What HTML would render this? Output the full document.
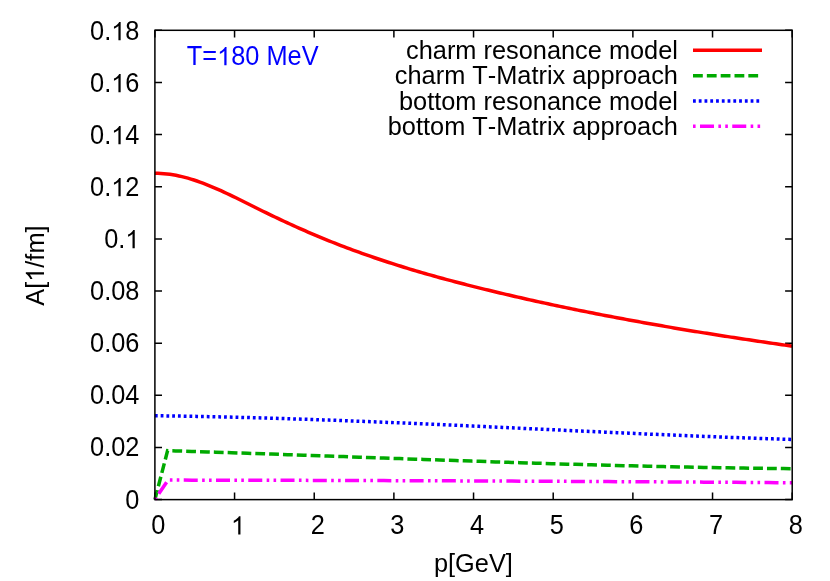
<!DOCTYPE html>
<html><head><meta charset="utf-8"><title>plot</title>
<style>
html,body{margin:0;padding:0;background:#fff;}
body{width:830px;height:581px;overflow:hidden;}
svg{display:block;will-change:transform;}
text{font-family:"Liberation Sans",sans-serif;font-size:25.35px;fill:#000;font-kerning:none;}
</style></head><body>
<svg width="830" height="581" viewBox="0 0 830 581">
<rect x="0" y="0" width="830" height="581" fill="#ffffff"/>

<g stroke="#000" stroke-width="1.50" fill="none" stroke-linecap="butt">
<path d="M154.90,499.62 h7.1 M792.20,499.62 h-7.1"/>
<path d="M154.90,447.47 h7.1 M792.20,447.47 h-7.1"/>
<path d="M154.90,395.33 h7.1 M792.20,395.33 h-7.1"/>
<path d="M154.90,343.18 h7.1 M792.20,343.18 h-7.1"/>
<path d="M154.90,291.03 h7.1 M792.20,291.03 h-7.1"/>
<path d="M154.90,238.89 h7.1 M792.20,238.89 h-7.1"/>
<path d="M154.90,186.74 h7.1 M792.20,186.74 h-7.1"/>
<path d="M154.90,134.59 h7.1 M792.20,134.59 h-7.1"/>
<path d="M154.90,82.45 h7.1 M792.20,82.45 h-7.1"/>
<path d="M154.90,30.30 h7.1 M792.20,30.30 h-7.1"/>
<path d="M154.90,499.62 v-7.1 M154.90,30.30 v7.1"/>
<path d="M234.56,499.62 v-7.1 M234.56,30.30 v7.1"/>
<path d="M314.23,499.62 v-7.1 M314.23,30.30 v7.1"/>
<path d="M393.89,499.62 v-7.1 M393.89,30.30 v7.1"/>
<path d="M473.55,499.62 v-7.1 M473.55,30.30 v7.1"/>
<path d="M553.21,499.62 v-7.1 M553.21,30.30 v7.1"/>
<path d="M632.88,499.62 v-7.1 M632.88,30.30 v7.1"/>
<path d="M712.54,499.62 v-7.1 M712.54,30.30 v7.1"/>
<path d="M792.20,499.62 v-7.1 M792.20,30.30 v7.1"/>
</g>
<g transform="translate(0,509.20) scale(1,1.07) translate(0,-509.20)"><text x="125.30" y="509.20">0</text></g>
<g transform="translate(0,456.20) scale(1,1.07) translate(0,-456.20)"><text x="90.06" y="456.20">0.02</text></g>
<g transform="translate(0,404.20) scale(1,1.07) translate(0,-404.20)"><text x="90.06" y="404.20">0.04</text></g>
<g transform="translate(0,352.20) scale(1,1.07) translate(0,-352.20)"><text x="90.06" y="352.20">0.06</text></g>
<g transform="translate(0,300.20) scale(1,1.07) translate(0,-300.20)"><text x="90.06" y="300.20">0.08</text></g>
<g transform="translate(0,248.20) scale(1,1.07) translate(0,-248.20)"><text x="104.16" y="248.20">0.<tspan style="fill:none">1</tspan></text><path d="M763 0H583V1147Q518 1085 412.5 1023T223 930V1104Q373 1175 485.5 1275T645 1469H763Z" transform="translate(125.30,248.20) scale(0.01238,-0.01157)" fill="#000"/></g>
<g transform="translate(0,196.20) scale(1,1.07) translate(0,-196.20)"><text x="90.06" y="196.20">0.<tspan style="fill:none">1</tspan>2</text><path d="M763 0H583V1147Q518 1085 412.5 1023T223 930V1104Q373 1175 485.5 1275T645 1469H763Z" transform="translate(111.20,196.20) scale(0.01238,-0.01157)" fill="#000"/></g>
<g transform="translate(0,144.20) scale(1,1.07) translate(0,-144.20)"><text x="90.06" y="144.20">0.<tspan style="fill:none">1</tspan>4</text><path d="M763 0H583V1147Q518 1085 412.5 1023T223 930V1104Q373 1175 485.5 1275T645 1469H763Z" transform="translate(111.20,144.20) scale(0.01238,-0.01157)" fill="#000"/></g>
<g transform="translate(0,92.20) scale(1,1.07) translate(0,-92.20)"><text x="90.06" y="92.20">0.<tspan style="fill:none">1</tspan>6</text><path d="M763 0H583V1147Q518 1085 412.5 1023T223 930V1104Q373 1175 485.5 1275T645 1469H763Z" transform="translate(111.20,92.20) scale(0.01238,-0.01157)" fill="#000"/></g>
<g transform="translate(0,40.20) scale(1,1.07) translate(0,-40.20)"><text x="90.06" y="40.20">0.<tspan style="fill:none">1</tspan>8</text><path d="M763 0H583V1147Q518 1085 412.5 1023T223 930V1104Q373 1175 485.5 1275T645 1469H763Z" transform="translate(111.20,40.20) scale(0.01238,-0.01157)" fill="#000"/></g>
<g transform="translate(0,534.40) scale(1,1.07) translate(0,-534.40)"><text x="151.35" y="534.40">0</text></g>
<g transform="translate(0,534.40) scale(1,1.07) translate(0,-534.40)"><text x="231.01" y="534.40"><tspan style="fill:none">1</tspan></text><path d="M763 0H583V1147Q518 1085 412.5 1023T223 930V1104Q373 1175 485.5 1275T645 1469H763Z" transform="translate(231.01,534.40) scale(0.01238,-0.01157)" fill="#000"/></g>
<g transform="translate(0,534.40) scale(1,1.07) translate(0,-534.40)"><text x="310.68" y="534.40">2</text></g>
<g transform="translate(0,534.40) scale(1,1.07) translate(0,-534.40)"><text x="390.34" y="534.40">3</text></g>
<g transform="translate(0,534.40) scale(1,1.07) translate(0,-534.40)"><text x="470.00" y="534.40">4</text></g>
<g transform="translate(0,534.40) scale(1,1.07) translate(0,-534.40)"><text x="549.66" y="534.40">5</text></g>
<g transform="translate(0,534.40) scale(1,1.07) translate(0,-534.40)"><text x="629.33" y="534.40">6</text></g>
<g transform="translate(0,534.40) scale(1,1.07) translate(0,-534.40)"><text x="708.99" y="534.40">7</text></g>
<g transform="translate(0,534.40) scale(1,1.07) translate(0,-534.40)"><text x="788.65" y="534.40">8</text></g>
<text x="433.95" y="572.00">p[GeV]</text>
<g transform="translate(44,265.6) rotate(-90)"><text x="-40.15" y="0.00">A[<tspan style="fill:none">1</tspan>/fm]</text><path d="M763 0H583V1147Q518 1085 412.5 1023T223 930V1104Q373 1175 485.5 1275T645 1469H763Z" transform="translate(-16.20,0.00) scale(0.01238,-0.01238)" fill="#000"/></g>
<g transform="translate(0,65.30) scale(1,1.07) translate(0,-65.30)"><text x="186.80" y="65.30" style="fill:#0000ff">T=<tspan style="fill:none">1</tspan>80 MeV</text><path d="M763 0H583V1147Q518 1085 412.5 1023T223 930V1104Q373 1175 485.5 1275T645 1469H763Z" transform="translate(217.09,65.30) scale(0.01238,-0.01157)" fill="#0000ff"/></g>
<text x="406.06" y="59.00">charm resonance model</text>
<text x="394.84" y="84.00">charm T-Matrix approach</text>
<text x="398.99" y="110.00">bottom resonance model</text>
<text x="387.77" y="135.00">bottom T-Matrix approach</text>
<g fill="none" stroke-width="3.5" stroke-linecap="butt" stroke-linejoin="round">
<path d="M693.0,50.37 H762.0" stroke="#ff0000"/>
<path d="M693.0,75.64 H762.0" stroke="#00aa00" stroke-dasharray="9.8 4.035"/>
<path d="M693.0,100.91 H762.0" stroke="#0000ff" stroke-dasharray="2.8 2.962"/>
<path d="M693.0,126.18 H762.0" stroke="#ff00ff" stroke-dasharray="14.0 4.39 2.6 4.29 2.6 4.385" stroke-dashoffset="25.28"/>
<path d="M154.90,173.29 L157.90,173.31 L160.90,173.43 L163.90,173.64 L166.90,173.93 L169.90,174.31 L172.90,174.77 L175.90,175.30 L178.90,175.92 L181.90,176.60 L184.90,177.36 L187.90,178.18 L190.90,179.06 L193.90,180.00 L196.90,181.00 L199.90,182.06 L202.90,183.16 L205.90,184.32 L208.90,185.52 L211.90,186.76 L214.90,188.03 L217.90,189.35 L220.90,190.69 L223.90,192.07 L226.90,193.47 L229.90,194.89 L232.90,196.34 L235.90,197.80 L238.90,199.28 L241.90,200.76 L244.90,202.26 L247.90,203.76 L250.90,205.26 L253.90,206.76 L256.90,208.25 L259.90,209.74 L262.90,211.22 L265.90,212.68 L268.90,214.14 L271.90,215.58 L274.90,217.02 L277.90,218.44 L280.90,219.85 L283.90,221.25 L286.90,222.64 L289.90,224.01 L292.90,225.38 L295.90,226.73 L298.90,228.07 L301.90,229.40 L304.90,230.72 L307.90,232.02 L310.90,233.31 L313.90,234.59 L316.90,235.86 L319.90,237.11 L322.90,238.35 L325.90,239.58 L328.90,240.80 L331.90,242.00 L334.90,243.19 L337.90,244.36 L340.90,245.52 L343.90,246.67 L346.90,247.81 L349.90,248.93 L352.90,250.04 L355.90,251.14 L358.90,252.23 L361.90,253.31 L364.90,254.37 L367.90,255.42 L370.90,256.47 L373.90,257.50 L376.90,258.52 L379.90,259.52 L382.90,260.52 L385.90,261.51 L388.90,262.49 L391.90,263.45 L394.90,264.41 L397.90,265.36 L400.90,266.29 L403.90,267.22 L406.90,268.14 L409.90,269.05 L412.90,269.95 L415.90,270.84 L418.90,271.73 L421.90,272.60 L424.90,273.47 L427.90,274.33 L430.90,275.18 L433.90,276.02 L436.90,276.86 L439.90,277.69 L442.90,278.51 L445.90,279.32 L448.90,280.13 L451.90,280.93 L454.90,281.72 L457.90,282.51 L460.90,283.29 L463.90,284.06 L466.90,284.83 L469.90,285.59 L472.90,286.35 L475.90,287.10 L478.90,287.85 L481.90,288.59 L484.90,289.33 L487.90,290.06 L490.90,290.79 L493.90,291.51 L496.90,292.23 L499.90,292.95 L502.90,293.66 L505.90,294.36 L508.90,295.06 L511.90,295.76 L514.90,296.46 L517.90,297.14 L520.90,297.83 L523.90,298.51 L526.90,299.19 L529.90,299.86 L532.90,300.53 L535.90,301.19 L538.90,301.85 L541.90,302.51 L544.90,303.16 L547.90,303.81 L550.90,304.46 L553.90,305.10 L556.90,305.73 L559.90,306.37 L562.90,307.00 L565.90,307.62 L568.90,308.24 L571.90,308.86 L574.90,309.48 L577.90,310.09 L580.90,310.70 L583.90,311.30 L586.90,311.90 L589.90,312.50 L592.90,313.09 L595.90,313.68 L598.90,314.27 L601.90,314.85 L604.90,315.43 L607.90,316.01 L610.90,316.58 L613.90,317.15 L616.90,317.72 L619.90,318.28 L622.90,318.84 L625.90,319.40 L628.90,319.95 L631.90,320.50 L634.90,321.05 L637.90,321.59 L640.90,322.14 L643.90,322.67 L646.90,323.21 L649.90,323.74 L652.90,324.27 L655.90,324.80 L658.90,325.32 L661.90,325.84 L664.90,326.36 L667.90,326.88 L670.90,327.39 L673.90,327.90 L676.90,328.41 L679.90,328.91 L682.90,329.41 L685.90,329.91 L688.90,330.41 L691.90,330.90 L694.90,331.40 L697.90,331.88 L700.90,332.37 L703.90,332.86 L706.90,333.34 L709.90,333.82 L712.90,334.29 L715.90,334.77 L718.90,335.24 L721.90,335.71 L724.90,336.18 L727.90,336.64 L730.90,337.11 L733.90,337.57 L736.90,338.03 L739.90,338.49 L742.90,338.94 L745.90,339.39 L748.90,339.84 L751.90,340.29 L754.90,340.74 L757.90,341.18 L760.90,341.63 L763.90,342.07 L766.90,342.51 L769.90,342.95 L772.90,343.38 L775.90,343.82 L778.90,344.25 L781.90,344.68 L784.90,345.11 L787.90,345.53 L790.90,345.96 L792.20,346.14" stroke="#ff0000"/>
<path d="M154.90,499.62 L167.60,450.65 L175.60,450.89 L183.60,451.15 L191.60,451.40 L199.60,451.66 L207.60,451.92 L215.60,452.18 L223.60,452.45 L231.60,452.72 L239.60,452.99 L247.60,453.26 L255.60,453.53 L263.60,453.81 L271.60,454.09 L279.60,454.36 L287.60,454.64 L295.60,454.92 L303.60,455.21 L311.60,455.49 L319.60,455.77 L327.60,456.06 L335.60,456.34 L343.60,456.62 L351.60,456.91 L359.60,457.19 L367.60,457.48 L375.60,457.76 L383.60,458.05 L391.60,458.33 L399.60,458.61 L407.60,458.89 L415.60,459.17 L423.60,459.45 L431.60,459.73 L439.60,460.01 L447.60,460.28 L455.60,460.56 L463.60,460.83 L471.60,461.10 L479.60,461.36 L487.60,461.63 L495.60,461.89 L503.60,462.15 L511.60,462.41 L519.60,462.67 L527.60,462.92 L535.60,463.17 L543.60,463.41 L551.60,463.65 L559.60,463.89 L567.60,464.13 L575.60,464.36 L583.60,464.58 L591.60,464.81 L599.60,465.03 L607.60,465.24 L615.60,465.45 L623.60,465.66 L631.60,465.86 L639.60,466.05 L647.60,466.24 L655.60,466.43 L663.60,466.61 L671.60,466.78 L679.60,466.95 L687.60,467.11 L695.60,467.27 L703.60,467.42 L711.60,467.56 L719.60,467.70 L727.60,467.84 L735.60,467.96 L743.60,468.08 L751.60,468.19 L759.60,468.29 L767.60,468.39 L775.60,468.48 L783.60,468.56 L791.60,468.64 L792.20,468.64" stroke="#00aa00" stroke-dasharray="9.8 4.035" stroke-linejoin="miter"/>
<path d="M154.90,415.76 L160.90,415.83 L166.90,415.91 L172.90,416.00 L178.90,416.09 L184.90,416.19 L190.90,416.29 L196.90,416.40 L202.90,416.51 L208.90,416.64 L214.90,416.76 L220.90,416.89 L226.90,417.03 L232.90,417.17 L238.90,417.32 L244.90,417.48 L250.90,417.63 L256.90,417.80 L262.90,417.97 L268.90,418.14 L274.90,418.32 L280.90,418.50 L286.90,418.68 L292.90,418.87 L298.90,419.07 L304.90,419.27 L310.90,419.47 L316.90,419.68 L322.90,419.89 L328.90,420.10 L334.90,420.32 L340.90,420.54 L346.90,420.77 L352.90,420.99 L358.90,421.22 L364.90,421.46 L370.90,421.70 L376.90,421.93 L382.90,422.18 L388.90,422.42 L394.90,422.67 L400.90,422.92 L406.90,423.17 L412.90,423.43 L418.90,423.68 L424.90,423.94 L430.90,424.20 L436.90,424.47 L442.90,424.73 L448.90,425.00 L454.90,425.26 L460.90,425.53 L466.90,425.80 L472.90,426.07 L478.90,426.35 L484.90,426.62 L490.90,426.89 L496.90,427.17 L502.90,427.44 L508.90,427.72 L514.90,428.00 L520.90,428.27 L526.90,428.55 L532.90,428.83 L538.90,429.10 L544.90,429.38 L550.90,429.66 L556.90,429.94 L562.90,430.21 L568.90,430.49 L574.90,430.76 L580.90,431.04 L586.90,431.31 L592.90,431.59 L598.90,431.86 L604.90,432.13 L610.90,432.40 L616.90,432.67 L622.90,432.93 L628.90,433.20 L634.90,433.46 L640.90,433.73 L646.90,433.99 L652.90,434.25 L658.90,434.50 L664.90,434.76 L670.90,435.01 L676.90,435.26 L682.90,435.51 L688.90,435.75 L694.90,435.99 L700.90,436.23 L706.90,436.47 L712.90,436.70 L718.90,436.93 L724.90,437.16 L730.90,437.38 L736.90,437.60 L742.90,437.82 L748.90,438.04 L754.90,438.25 L760.90,438.45 L766.90,438.65 L772.90,438.85 L778.90,439.05 L784.90,439.24 L790.90,439.42 L792.20,439.46" stroke="#0000ff" stroke-dasharray="2.8 2.962"/>
<path d="M154.90,499.62 L168.00,480.10 L176.00,480.11 L184.00,480.12 L192.00,480.13 L200.00,480.15 L208.00,480.16 L216.00,480.17 L224.00,480.19 L232.00,480.20 L240.00,480.22 L248.00,480.24 L256.00,480.25 L264.00,480.27 L272.00,480.29 L280.00,480.31 L288.00,480.33 L296.00,480.35 L304.00,480.37 L312.00,480.39 L320.00,480.41 L328.00,480.43 L336.00,480.46 L344.00,480.48 L352.00,480.50 L360.00,480.53 L368.00,480.55 L376.00,480.58 L384.00,480.61 L392.00,480.63 L400.00,480.66 L408.00,480.69 L416.00,480.72 L424.00,480.75 L432.00,480.78 L440.00,480.81 L448.00,480.84 L456.00,480.87 L464.00,480.90 L472.00,480.94 L480.00,480.97 L488.00,481.00 L496.00,481.04 L504.00,481.07 L512.00,481.11 L520.00,481.15 L528.00,481.18 L536.00,481.22 L544.00,481.26 L552.00,481.30 L560.00,481.34 L568.00,481.38 L576.00,481.42 L584.00,481.46 L592.00,481.50 L600.00,481.54 L608.00,481.59 L616.00,481.63 L624.00,481.67 L632.00,481.72 L640.00,481.76 L648.00,481.81 L656.00,481.86 L664.00,481.90 L672.00,481.95 L680.00,482.00 L688.00,482.05 L696.00,482.10 L704.00,482.15 L712.00,482.20 L720.00,482.25 L728.00,482.30 L736.00,482.35 L744.00,482.41 L752.00,482.46 L760.00,482.52 L768.00,482.57 L776.00,482.63 L784.00,482.68 L792.00,482.74 L792.20,482.74" stroke="#ff00ff" stroke-dasharray="14.0 4.39 2.6 4.29 2.6 4.385" stroke-dashoffset="25.28" stroke-linejoin="miter"/>
</g>
<rect x="154.9" y="30.3" width="637.3000000000001" height="469.32" fill="none" stroke="#000" stroke-width="1.5"/>
</svg></body></html>
